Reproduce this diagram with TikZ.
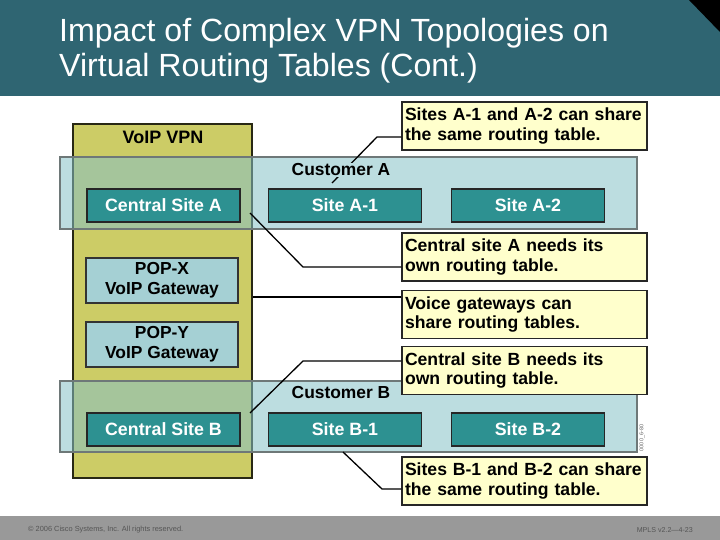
\documentclass[tikz,border=0pt]{standalone}
\usepackage{fontspec}
\setmainfont{Liberation Sans}
\definecolor{titlebar}{RGB}{47,101,114}
\definecolor{olive}{RGB}{204,204,102}
\definecolor{oliveedge}{RGB}{40,40,20}
\definecolor{bandc}{RGB}{133,193,199}
\definecolor{bandlbl}{RGB}{188,221,224}
\definecolor{bandedge}{RGB}{110,120,120}
\definecolor{siteteal}{RGB}{45,145,145}
\definecolor{popblue}{RGB}{165,208,212}
\definecolor{callfill}{RGB}{255,255,204}
\definecolor{footgray}{RGB}{153,153,153}
\definecolor{foottext}{RGB}{85,85,85}
\tikzset{
  sitebox/.style={draw=black!85, line width=1.4pt, fill=siteteal, text=white,
    minimum width=153pt, minimum height=33pt, inner sep=0pt,
    font=\fontsize{17.8}{20}\selectfont\bfseries},
  popbox/.style={draw=black!80, line width=1.2pt, fill=popblue, text=black,
    minimum width=152pt, minimum height=45pt, inner sep=0pt, align=center,
    font=\fontsize{17.4}{20}\selectfont\bfseries},
  callout/.style={draw=black!85, line width=1.3pt, fill=callfill, text=black,
    text width=239pt, inner xsep=3pt, inner ysep=0pt, minimum height=48pt,
    align=left, font=\fontsize{17.6}{19.5}\selectfont\bfseries},
  band/.style={draw=bandedge, line width=1.2pt, fill=bandc, fill opacity=0.55},
  grplabel/.style={font=\fontsize{17.4}{20}\selectfont\bfseries, text=black, inner sep=1pt},
  conn/.style={draw=black, line width=1.3pt},
}
\begin{document}
\begin{tikzpicture}[x=1pt,y=-1pt]
\useasboundingbox (0,0) rectangle (720,540);
% title bar
\fill[titlebar] (0,0) rectangle (720,96);
\fill[black] (689,0) -- (720,0) -- (720,32) -- cycle;
\node[anchor=base west, text=white, inner sep=0pt, font=\fontsize{32.1}{35}\selectfont] (t1) at (59,42) {Impact of Complex VPN Topologies on};
\node[anchor=base west, text=white, inner sep=0pt, font=\fontsize{32.1}{35}\selectfont] (t2) at (59,77) {Virtual Routing Tables (Cont.)};
% footer
\fill[footgray] (0,516) rectangle (720,540);
\node[anchor=west, text=foottext, inner sep=0pt, font=\fontsize{7.4}{8}\selectfont] (f1) at (28,530) {© 2006 Cisco Systems, Inc. All rights reserved.};
\node[anchor=east, text=foottext, inner sep=0pt, font=\fontsize{7.1}{8}\selectfont] (f2) at (693,530) {MPLS v2.2—4-23};
% VoIP VPN box
\node[draw=oliveedge, line width=1.4pt, fill=olive, minimum width=179pt, minimum height=354pt, inner sep=0pt] (voip) at (162.5,301) {};
\node[grplabel, font=\fontsize{18}{20}\selectfont\bfseries] (voiplbl) at (163,137) {VoIP VPN};
% POP boxes
\node[popbox] (popx) at (162,280.5) {POP-X\\VoIP Gateway};
\node[popbox] (popy) at (162,344.5) {POP-Y\\VoIP Gateway};
% customer bands
\draw[band] (60,157) rectangle (637,229);
\draw[band] (60,381) rectangle (637,452);
% site boxes
\node[sitebox] (csa) at (163.5,205.5) {Central Site A};
\node[sitebox] (sa1) at (345,205.5) {Site A-1};
\node[sitebox] (sa2) at (528,205.5) {Site A-2};
\node[sitebox] (csb) at (163.5,429.5) {Central Site B};
\node[sitebox] (sb1) at (345,429.5) {Site B-1};
\node[sitebox] (sb2) at (528,429.5) {Site B-2};
% callouts
\node[callout] (co1) at (524.5,126) {Sites A-1 and A-2 can share\\the same routing table.};
\node[callout] (co2) at (524.5,257) {Central site A needs its\\own routing table.};
\node[callout] (co3) at (524.5,314.5) {Voice gateways can\\share routing tables.};
\node[callout] (co5) at (524.5,481) {Sites B-1 and B-2 can share\\the same routing table.};
% connectors
\coordinate (k1a) at (377,137);
\coordinate (k1b) at (332,183);
\draw[conn] (co1.west |- k1a) -- (k1a) -- (k1b);
\coordinate (k2a) at (303,267);
\coordinate (k2b) at (250,213);
\draw[conn] (co2.west |- k2a) -- (k2a) -- (k2b);
\coordinate (k3a) at (252,297);
\draw[conn] (co3.west |- k3a) -- (voip.east |- k3a);
\coordinate (k4a) at (303,361);
\coordinate (k4b) at (250,413);
\coordinate (k5a) at (382,489);
\coordinate (k5b) at (343,452);
\draw[conn] (co5.west |- k5a) -- (k5a) -- (k5b);
% group labels
\node[grplabel, fill=bandlbl] (custa) at (341,170) {Customer A};
\node[grplabel, fill=bandlbl] (custb) at (341,393) {Customer B};
% callout 4 (on top of band)
\node[callout] (co4) at (524.5,370.5) {Central site B needs its\\own routing table.};
\draw[conn] (co4.west |- k4a) -- (k4a) -- (k4b);
% small id
\node[rotate=90, text=black!60, inner sep=0pt, font=\fontsize{5.5}{6}\selectfont] (idx) at (642,438) {0000\_6-80};
\end{tikzpicture}
\end{document}
